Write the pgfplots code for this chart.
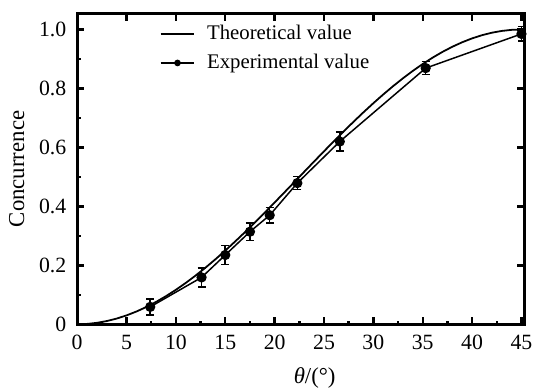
\documentclass[border=0pt]{standalone}
\usepackage{fontspec}
\setmainfont{Liberation Serif}
\usepackage{pgfplots}
\pgfplotsset{compat=1.18}
\begin{document}
\begin{tikzpicture}
\pgfplotsset{
  common/.style={
    scale only axis, width=226pt, height=157pt,
    xmin=0, xmax=45.3, ymin=0, ymax=1.054,
    axis line style={line width=1.4pt},
    /pgf/number format/assume math mode=true,
    tick style={line width=1.2pt, black},
    major tick length=3.5pt, minor tick length=1.8pt,
    xtick={0,5,...,45},
    ytick={0,0.2,0.4,0.6,0.8,1.0},
    yticklabels={0,0.2,0.4,0.6,0.8,1.0},
    ticklabel style={font=\fontsize{11}{13}\selectfont},
  }
}
\begin{axis}[common,
  xtick pos=bottom, ytick pos=left,
  tick align=inside,
  minor x tick num=1, minor y tick num=1,
  xticklabel style={yshift=-2pt, inner xsep=0pt},
  yticklabel style={xshift=-2pt},
  xlabel={\textit{θ}/(°)},
  ylabel={Concurrence},
  label style={font=\fontsize{11.5}{13}\selectfont, inner sep=0pt},
  xlabel style={at={(rel axis cs:0.5,0)}, anchor=center, xshift=7pt, yshift=-27pt},
  ylabel style={at={(rel axis cs:0,0.5)}, anchor=center, yshift=30.5pt},
  legend cell align=left,
  legend style={draw=none, fill=none, at={(0.175,0.99)}, anchor=north west,
    row sep=2pt, font=\fontsize{10.5}{12}\selectfont, inner xsep=2pt},
  legend image code/.code={
    \draw[#1] (0pt,0pt) -- (17pt,0pt);
    \path[#1, mark size=1.3pt] plot coordinates {(8.5pt,0pt)};
    \path (21pt,0pt);
  },
]
\addplot[black, line width=0.9pt, no marks] coordinates {
(0,0) (1,0.00122) (2,0.00487) (3,0.01093) (4,0.01937) (5,0.03015)
(6,0.04323) (7,0.05853) (8,0.07598) (9,0.09549) (10,0.11698)
(11,0.14033) (12,0.16543) (13,0.19217) (14,0.22040) (15,0.25)
(16,0.28081) (17,0.31270) (18,0.34549) (19,0.37904) (20,0.41318)
(21,0.44774) (22,0.48255) (23,0.51745) (24,0.55226) (25,0.58682)
(26,0.62096) (27,0.65451) (28,0.68730) (29,0.71919) (30,0.75)
(31,0.77960) (32,0.80783) (33,0.83457) (34,0.85967) (35,0.88302)
(36,0.90451) (37,0.92402) (38,0.94147) (39,0.95677) (40,0.96985)
(41,0.98063) (42,0.98907) (43,0.99513) (44,0.99878) (45,1.0)
};
\addlegendentry{Theoretical value}
\addplot[black, line width=0.75pt, mark=*, mark size=2.2pt,
  error bars/.cd, y dir=both, y explicit,
  error bar style={line width=0.8pt},
  error mark options={rotate=90, mark size=2pt, line width=0.8pt}]
  coordinates {
(7.4,0.059) +- (0,0.027)
(12.6,0.159) +- (0,0.032)
(15.0,0.235) +- (0,0.032)
(17.5,0.314) +- (0,0.03)
(19.5,0.370) +- (0,0.026)
(22.3,0.479) +- (0,0.022)
(26.6,0.620) +- (0,0.032)
(35.3,0.869) +- (0,0.022)
(45.0,0.985) +- (0,0.025)
};
\addlegendentry{Experimental value}
\end{axis}
\begin{axis}[common,
  xtick pos=top, ytick pos=right, tick align=inside,
  xticklabels={}, yticklabels={},
]
\end{axis}
\path (-39pt,-32.5pt) (230.5pt,160.5pt);
\end{tikzpicture}
\end{document}
